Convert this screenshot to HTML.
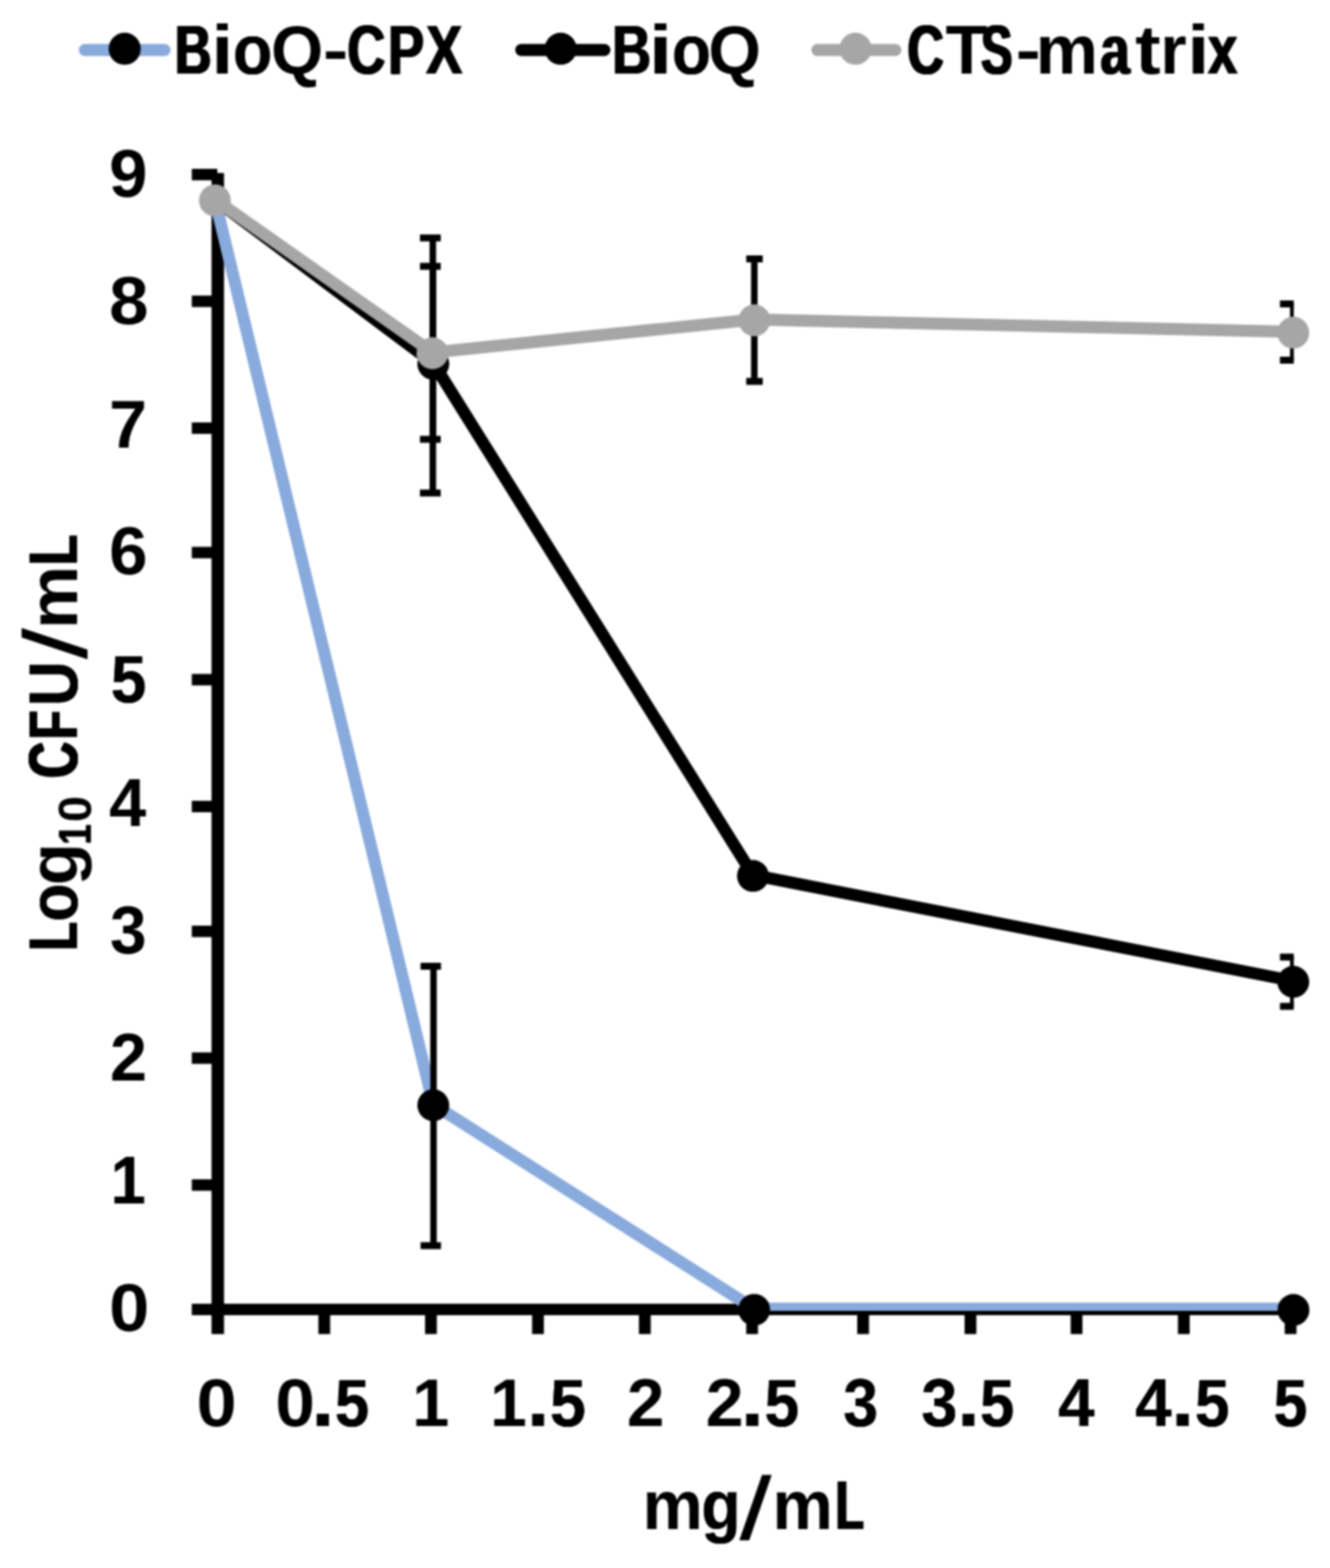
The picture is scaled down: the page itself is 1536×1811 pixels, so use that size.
<!DOCTYPE html>
<html lang="en"><head><meta charset="utf-8"><title>Log10 CFU/mL mg/mL</title>
<style>
html,body{margin:0;padding:0;background:#fff;}
body{width:1536px;height:1811px;overflow:hidden;position:relative;}
#chart{position:absolute;left:0;top:0;width:1536px;height:1811px;background:#fff;filter:blur(1px);}
svg{display:block;position:absolute;left:0;top:0;}
.t{position:absolute;left:0;top:0;margin:0;white-space:pre;font-family:"Liberation Sans",sans-serif;font-weight:bold;font-size:80px;line-height:80px;height:80px;color:#000;transform-origin:0 0;}
.t span{display:inline-block;width:10px;height:80px;line-height:80px;vertical-align:top;}
.t .s{font-size:54px;}
</style></head><body><div id="chart">
<svg width="1536" height="1811" viewBox="0 0 1536 1811" role="img">
<title>Log10 CFU/mL mg/mL</title>
<desc>BioQ-CPX BioQ CTS-matrix Log10 CFU/mL 9 8 7 6 5 4 3 2 1 0 mg/mL 0 0.5 1 1.5 2 2.5 3 3.5 4 4.5 5</desc>
<rect width="1536" height="1811" fill="#fff"/>
<defs><clipPath id="plot"><rect x="240" y="190" width="1254.2" height="1324"/></clipPath></defs>
<g fill="#000">
<rect x="244.3" y="199.8" width="14.4" height="1341"/>
<rect x="221.5" y="1505.8" width="1276" height="13.2"/>
<rect x="221.5" y="195.0" width="29.5" height="13.2"/>
<rect x="221.5" y="341.4" width="29.5" height="13.2"/>
<rect x="221.5" y="487.9" width="29.5" height="13.2"/>
<rect x="221.5" y="631.6" width="29.5" height="13.2"/>
<rect x="221.5" y="778.4" width="29.5" height="13.2"/>
<rect x="221.5" y="924.9" width="29.5" height="13.2"/>
<rect x="221.5" y="1069.1" width="29.5" height="13.2"/>
<rect x="221.5" y="1215.5" width="29.5" height="13.2"/>
<rect x="221.5" y="1362.1" width="29.5" height="13.2"/>
<rect x="367.7" y="1512" width="13.6" height="28.8"/>
<rect x="490.9" y="1512" width="13.6" height="28.8"/>
<rect x="614.5" y="1512" width="13.6" height="28.8"/>
<rect x="737.9" y="1512" width="13.6" height="28.8"/>
<rect x="861.8" y="1512" width="13.6" height="28.8"/>
<rect x="990.0" y="1512" width="13.6" height="28.8"/>
<rect x="1114.0" y="1512" width="13.6" height="28.8"/>
<rect x="1236.5" y="1512" width="13.6" height="28.8"/>
<rect x="1360.4" y="1512" width="13.6" height="28.8"/>
<rect x="1483.7" y="1512" width="13.6" height="28.8"/>
</g>
<g clip-path="url(#plot)"><polyline points="248.2,230.5 500.4,1275.5 871.0,1511.6 1493.6,1511.6" fill="none" stroke="#88aadc" stroke-width="14" stroke-linejoin="round" stroke-linecap="butt"/></g>
<g clip-path="url(#plot)" fill="#000">
<rect x="496.9" y="1116.0" width="7.5" height="322.7"/>
<rect x="485.7" y="1112.0" width="23.6" height="8"/>
<rect x="485.7" y="1434.7" width="23.6" height="8"/>
</g>
<circle cx="500.4" cy="1276.5" r="18.4" fill="#000"/>
<circle cx="871.0" cy="1512.8" r="18.4" fill="#000"/>
<circle cx="1493.8" cy="1512.9" r="18.4" fill="#000"/>
<g clip-path="url(#plot)"><polyline points="248.2,230.5 500.4,419.3 869.6,1010.7 1493.6,1133.0" fill="none" stroke="#000" stroke-width="14" stroke-linejoin="round" stroke-linecap="butt"/></g>
<g clip-path="url(#plot)" fill="#000">
<rect x="496.1" y="274.8" width="7.5" height="294.6"/>
<rect x="485.0" y="270.8" width="24.0" height="8"/>
<rect x="485.0" y="565.4" width="24.0" height="8"/>
</g>
<g clip-path="url(#plot)" fill="#000">
<rect x="1489.8" y="1105.4" width="7.5" height="56.9"/>
<rect x="1478.2" y="1101.4" width="21.8" height="8"/>
<rect x="1478.2" y="1158.3" width="21.8" height="8"/>
</g>
<circle cx="500.4" cy="420.3" r="18.4" fill="#000"/>
<circle cx="869.6" cy="1011.7" r="18.4" fill="#000"/>
<circle cx="1493.6" cy="1134.0" r="18.4" fill="#000"/>
<g clip-path="url(#plot)"><polyline points="248.2,230.5 499.4,407.0 871.2,369.0 1493.6,383.2" fill="none" stroke="#a6a6a6" stroke-width="14" stroke-linejoin="round" stroke-linecap="butt"/></g>
<g clip-path="url(#plot)" fill="#000">
<rect x="496.1" y="307.6" width="7.5" height="199.8"/>
<rect x="485.0" y="303.6" width="24.0" height="8"/>
<rect x="485.0" y="503.4" width="24.0" height="8"/>
</g>
<g clip-path="url(#plot)" fill="#000">
<rect x="867.4" y="299.0" width="7.5" height="141.5"/>
<rect x="861.8" y="295.0" width="19.1" height="8"/>
<rect x="861.8" y="436.5" width="19.1" height="8"/>
</g>
<g clip-path="url(#plot)" fill="#000">
<rect x="1489.8" y="351.0" width="7.5" height="65.0"/>
<rect x="1478.2" y="347.0" width="21.8" height="8"/>
<rect x="1478.2" y="412.0" width="21.8" height="8"/>
</g>
<circle cx="248.2" cy="231.5" r="18.4" fill="#a6a6a6"/>
<circle cx="499.4" cy="408.0" r="18.4" fill="#a6a6a6"/>
<circle cx="871.2" cy="370.0" r="18.4" fill="#a6a6a6"/>
<circle cx="1493.6" cy="384.2" r="18.4" fill="#a6a6a6"/>
<line x1="98" y1="57.8" x2="190" y2="57.8" stroke="#88aadc" stroke-width="14" stroke-linecap="round"/>
<circle cx="144" cy="56.3" r="18.5" fill="#000"/>
<line x1="602" y1="57.8" x2="698" y2="57.8" stroke="#000" stroke-width="14" stroke-linecap="round"/>
<circle cx="647.5" cy="56.3" r="18.5" fill="#000"/>
<line x1="944" y1="57.8" x2="1034" y2="57.8" stroke="#a6a6a6" stroke-width="14" stroke-linecap="round"/>
<circle cx="988" cy="56.3" r="18.5" fill="#a6a6a6"/>
</svg>
<div class="t" aria-label="BioQ-CPX" style="top:17.88px"><span style="margin-left:201.89px;transform-origin:0 67.73px;transform:translate(0,-0.01px) matrix(0.7299,0,-0.0000,0.9900,0,0);text-shadow:1.77px 0 0 #000,-1.77px 0 0 #000,0.89px 0 0 #000,-0.89px 0 0 #000">B</span><span style="margin-left:32.20px;transform-origin:0 67.73px;transform:translate(0,-0.01px) matrix(1.1479,0,-0.0000,0.9900,0,0)">i</span><span style="margin-left:15.15px;transform-origin:0 67.73px;transform:translate(0,-0.01px) matrix(0.9294,0,-0.0000,0.9900,0,0);text-shadow:0.16px 0 0 #000,-0.16px 0 0 #000">o</span><span style="margin-left:34.18px;transform-origin:0 67.73px;transform:translate(0,-0.01px) matrix(0.9697,0,-0.0000,0.9900,0,0)">Q</span><span style="margin-left:49.45px;transform-origin:0 67.73px;transform:translate(0,-3.43px) matrix(1.0978,0,-0.0000,0.9128,0,0)">-</span><span style="margin-left:17.81px;transform-origin:0 67.73px;transform:translate(0,-0.01px) matrix(0.7651,0,-0.0000,0.9900,0,0);text-shadow:1.43px 0 0 #000,-1.43px 0 0 #000">C</span><span style="margin-left:37.39px;transform-origin:0 67.73px;transform:translate(0,-0.01px) matrix(0.7852,0,-0.0000,0.9900,0,0);text-shadow:1.24px 0 0 #000,-1.24px 0 0 #000">P</span><span style="margin-left:33.54px;transform-origin:0 67.73px;transform:translate(0,-0.01px) matrix(0.7866,0,-0.0000,0.9900,0,0);text-shadow:1.23px 0 0 #000,-1.23px 0 0 #000">X</span></div>
<div class="t" aria-label="BioQ" style="top:17.88px"><span style="margin-left:706.68px;transform-origin:0 67.73px;transform:translate(0,-0.01px) matrix(0.7755,0,-0.0000,0.9900,0,0);text-shadow:1.33px 0 0 #000,-1.33px 0 0 #000">B</span><span style="margin-left:32.35px;transform-origin:0 67.73px;transform:translate(0,-0.01px) matrix(1.2481,0,-0.0000,0.9900,0,0)">i</span><span style="margin-left:17.07px;transform-origin:0 67.73px;transform:translate(0,-0.01px) matrix(0.9230,0,-0.0000,0.9900,0,0);text-shadow:0.20px 0 0 #000,-0.20px 0 0 #000">o</span><span style="margin-left:31.79px;transform-origin:0 67.73px;transform:translate(0,-0.01px) matrix(0.9787,0,-0.0000,0.9900,0,0)">Q</span></div>
<div class="t" aria-label="CTS-matrix" style="top:17.88px"><span style="margin-left:1048.04px;transform-origin:0 67.73px;transform:translate(0,-0.01px) matrix(0.7258,0,-0.0000,0.9900,0,0);text-shadow:1.82px 0 0 #000,-1.82px 0 0 #000,0.91px 0 0 #000,-0.91px 0 0 #000">C</span><span style="margin-left:33.77px;transform-origin:0 67.73px;transform:translate(0,-0.01px) matrix(0.9956,0,-0.0000,0.9900,0,0)">T</span><span style="margin-left:31.09px;transform-origin:0 67.73px;transform:translate(0,-0.01px) matrix(0.6778,0,-0.0000,0.9900,0,0);text-shadow:2.00px 0 0 #000,-2.00px 0 0 #000,1.00px 0 0 #000,-1.00px 0 0 #000">S</span><span style="margin-left:30.21px;transform-origin:0 67.73px;transform:translate(0,-3.43px) matrix(1.0880,0,-0.0000,0.9128,0,0)">-</span><span style="margin-left:13.05px;transform-origin:0 67.73px;transform:translate(0,-0.01px) matrix(1.0148,0,-0.0000,0.9900,0,0)">m</span><span style="margin-left:65.03px;transform-origin:0 67.73px;transform:translate(0,-0.01px) matrix(0.7548,0,-0.0000,0.9900,0,0);text-shadow:1.52px 0 0 #000,-1.52px 0 0 #000">a</span><span style="margin-left:30.34px;transform-origin:0 67.73px;transform:translate(0,-0.01px) matrix(1.1058,0,-0.0000,0.9900,0,0)">t</span><span style="margin-left:18.72px;transform-origin:0 67.73px;transform:translate(0,-0.01px) matrix(0.9777,0,-0.0000,0.9900,0,0)">r</span><span style="margin-left:21.14px;transform-origin:0 67.73px;transform:translate(0,-0.01px) matrix(1.1661,0,-0.0000,0.9900,0,0)">i</span><span style="margin-left:13.28px;transform-origin:0 67.73px;transform:translate(0,-0.01px) matrix(0.7664,0,-0.0000,0.9900,0,0);text-shadow:1.41px 0 0 #000,-1.41px 0 0 #000">x</span></div>
<div class="t" aria-label="9" style="top:160.18px"><span style="margin-left:125.94px;transform-origin:0 67.73px;transform:translate(0,-0.01px) matrix(0.9961,0,-0.0000,0.9800,0,0)">9</span></div>
<div class="t" aria-label="8" style="top:306.98px"><span style="margin-left:125.70px;transform-origin:0 67.73px;transform:translate(0,-0.01px) matrix(1.0230,0,-0.0000,0.9800,0,0)">8</span></div>
<div class="t" aria-label="7" style="top:449.68px"><span style="margin-left:126.42px;transform-origin:0 67.73px;transform:translate(0,-0.01px) matrix(0.9830,0,-0.0000,0.9800,0,0)">7</span></div>
<div class="t" aria-label="6" style="top:595.78px"><span style="margin-left:126.48px;transform-origin:0 67.73px;transform:translate(0,-0.01px) matrix(0.9981,0,-0.0000,0.9800,0,0)">6</span></div>
<div class="t" aria-label="5" style="top:743.68px"><span style="margin-left:127.71px;transform-origin:0 67.73px;transform:translate(0,-0.01px) matrix(0.9229,0,-0.0000,0.9800,0,0);text-shadow:0.20px 0 0 #000,-0.20px 0 0 #000">5</span></div>
<div class="t" aria-label="4" style="top:886.78px"><span style="margin-left:126.43px;transform-origin:0 67.73px;transform:translate(0,-0.01px) matrix(0.9638,0,-0.0000,0.9800,0,0)">4</span></div>
<div class="t" aria-label="3" style="top:1034.08px"><span style="margin-left:127.35px;transform-origin:0 67.73px;transform:translate(0,-0.01px) matrix(0.9506,0,-0.0000,0.9800,0,0)">3</span></div>
<div class="t" aria-label="2" style="top:1181.08px"><span style="margin-left:127.13px;transform-origin:0 67.73px;transform:translate(0,-0.01px) matrix(0.9632,0,-0.0000,0.9800,0,0)">2</span></div>
<div class="t" aria-label="1" style="top:1323.48px"><span style="margin-left:128.45px;transform-origin:0 67.73px;transform:translate(0,-0.01px) matrix(0.9026,0,-0.0000,0.9800,0,0);text-shadow:0.33px 0 0 #000,-0.33px 0 0 #000">1</span></div>
<div class="t" aria-label="0" style="top:1469.68px"><span style="margin-left:125.69px;transform-origin:0 67.73px;transform:translate(0,-0.01px) matrix(1.0448,0,-0.0000,0.9800,0,0)">0</span></div>
<div class="t" aria-label="0" style="top:1580.18px"><span style="margin-left:226.51px;transform-origin:0 67.73px;transform:translate(0,-0.01px) matrix(1.0408,0,-0.0000,0.9800,0,0)">0</span></div>
<div class="t" aria-label="0.5" style="top:1580.18px"><span style="margin-left:317.85px;transform-origin:0 67.73px;transform:translate(0,-0.01px) matrix(1.0277,0,-0.0000,0.9800,0,0)">0</span><span style="margin-left:30.97px;transform-origin:0 67.73px;transform:translate(0,0.59px) matrix(1.2490,0,-0.0000,1.1835,0,0)">.</span><span style="margin-left:18.54px;transform-origin:0 67.73px;transform:translate(0,-0.01px) matrix(0.8804,0,-0.0000,0.9800,0,0);text-shadow:0.49px 0 0 #000,-0.49px 0 0 #000">5</span></div>
<div class="t" aria-label="1" style="top:1580.18px"><span style="margin-left:476.44px;transform-origin:0 67.73px;transform:translate(0,-0.01px) matrix(0.9644,0,-0.0000,0.9800,0,0)">1</span></div>
<div class="t" aria-label="1.5" style="top:1580.18px"><span style="margin-left:566.29px;transform-origin:0 67.73px;transform:translate(0,-0.01px) matrix(0.9536,0,-0.0000,0.9800,0,0)">1</span><span style="margin-left:31.52px;transform-origin:0 67.73px;transform:translate(0,0.59px) matrix(1.2136,0,-0.0000,1.1835,0,0)">.</span><span style="margin-left:17.18px;transform-origin:0 67.73px;transform:translate(0,-0.01px) matrix(0.9370,0,-0.0000,0.9800,0,0);text-shadow:0.11px 0 0 #000,-0.11px 0 0 #000">5</span></div>
<div class="t" aria-label="2" style="top:1580.18px"><span style="margin-left:723.90px;transform-origin:0 67.73px;transform:translate(0,-0.01px) matrix(0.9736,0,-0.0000,0.9800,0,0)">2</span></div>
<div class="t" aria-label="2.5" style="top:1580.18px"><span style="margin-left:815.27px;transform-origin:0 67.73px;transform:translate(0,-0.01px) matrix(0.9840,0,-0.0000,0.9800,0,0)">2</span><span style="margin-left:29.95px;transform-origin:0 67.73px;transform:translate(0,0.59px) matrix(1.2490,0,-0.0000,1.1835,0,0)">.</span><span style="margin-left:18.10px;transform-origin:0 67.73px;transform:translate(0,-0.01px) matrix(0.8981,0,-0.0000,0.9800,0,0);text-shadow:0.36px 0 0 #000,-0.36px 0 0 #000">5</span></div>
<div class="t" aria-label="3" style="top:1580.18px"><span style="margin-left:974.47px;transform-origin:0 67.73px;transform:translate(0,-0.01px) matrix(0.8994,0,-0.0000,0.9800,0,0);text-shadow:0.35px 0 0 #000,-0.35px 0 0 #000">3</span></div>
<div class="t" aria-label="3.5" style="top:1580.18px"><span style="margin-left:1063.97px;transform-origin:0 67.73px;transform:translate(0,-0.01px) matrix(0.9383,0,-0.0000,0.9800,0,0);text-shadow:0.10px 0 0 #000,-0.10px 0 0 #000">3</span><span style="margin-left:30.74px;transform-origin:0 67.73px;transform:translate(0,0.59px) matrix(1.2136,0,-0.0000,1.1835,0,0)">.</span><span style="margin-left:17.15px;transform-origin:0 67.73px;transform:translate(0,-0.01px) matrix(0.8804,0,-0.0000,0.9800,0,0);text-shadow:0.49px 0 0 #000,-0.49px 0 0 #000">5</span></div>
<div class="t" aria-label="4" style="top:1580.18px"><span style="margin-left:1221.61px;transform-origin:0 67.73px;transform:translate(0,-0.01px) matrix(0.9448,0,-0.0000,0.9800,0,0);text-shadow:0.06px 0 0 #000,-0.06px 0 0 #000">4</span></div>
<div class="t" aria-label="4.5" style="top:1580.18px"><span style="margin-left:1311.31px;transform-origin:0 67.73px;transform:translate(0,-0.01px) matrix(0.9448,0,-0.0000,0.9800,0,0);text-shadow:0.06px 0 0 #000,-0.06px 0 0 #000">4</span><span style="margin-left:30.41px;transform-origin:0 67.73px;transform:translate(0,0.59px) matrix(1.2490,0,-0.0000,1.1835,0,0)">.</span><span style="margin-left:18.70px;transform-origin:0 67.73px;transform:translate(0,-0.01px) matrix(0.8981,0,-0.0000,0.9800,0,0);text-shadow:0.36px 0 0 #000,-0.36px 0 0 #000">5</span></div>
<div class="t" aria-label="5" style="top:1580.18px"><span style="margin-left:1470.95px;transform-origin:0 67.73px;transform:translate(0,-0.01px) matrix(0.8698,0,-0.0000,0.9800,0,0);text-shadow:0.56px 0 0 #000,-0.56px 0 0 #000">5</span></div>
<div class="t" aria-label="mg/mL" style="top:1698.68px"><span style="margin-left:742.23px;transform-origin:0 67.73px;transform:translate(0,-0.01px) matrix(0.9803,0,-0.0000,0.9900,0,0)">m</span><span style="margin-left:57.69px;transform-origin:0 67.73px;transform:translate(0,-0.01px) matrix(0.9265,0,-0.0000,0.9900,0,0);text-shadow:0.17px 0 0 #000,-0.17px 0 0 #000">g</span><span style="margin-left:33.38px;transform-origin:0 67.73px;transform:translate(0,11.15px) matrix(1.2028,0,-0.2103,1.2691,0,0)">/</span><span style="margin-left:28.62px;transform-origin:0 67.73px;transform:translate(0,-0.01px) matrix(0.9836,0,-0.0000,0.9900,0,0)">m</span><span style="margin-left:63.55px;transform-origin:0 67.73px;transform:translate(0,-0.01px) matrix(0.6681,0,-0.0000,0.9900,0,0);text-shadow:2.00px 0 0 #000,-2.00px 0 0 #000,1.00px 0 0 #000,-1.00px 0 0 #000">L</span></div>
<div class="t" aria-label="Log10 CFU/mL" style="transform:translate(21.68px,1095.40px) rotate(-90deg)"><span style="margin-left:-2.19px;transform-origin:0 67.73px;transform:translate(0,-0.01px) matrix(0.6525,0,-0.0000,0.9900,0,0);text-shadow:2.00px 0 0 #000,-2.00px 0 0 #000,1.00px 0 0 #000,-1.00px 0 0 #000">L</span><span style="margin-left:22.74px;transform-origin:0 67.73px;transform:translate(0,-0.01px) matrix(0.8941,0,-0.0000,0.9900,0,0);text-shadow:0.39px 0 0 #000,-0.39px 0 0 #000">o</span><span style="margin-left:32.27px;transform-origin:0 67.73px;transform:translate(0,-0.01px) matrix(0.9991,0,-0.0000,0.9900,0,0)">g</span><span class="s" style="margin-left:37.27px;transform-origin:0 58.72px;transform:translate(0,24.30px) matrix(0.7709,0,-0.0000,0.9900,0,0);text-shadow:0.93px 0 0 #000,-0.93px 0 0 #000">1</span><span class="s" style="margin-left:15.55px;transform-origin:0 58.72px;transform:translate(0,24.30px) matrix(1.0085,0,-0.0000,0.9900,0,0)">0</span><span style="margin-left:20.35px;transform-origin:0 67.73px;transform:translate(0,-0.01px) matrix(1.0000,0,-0.0000,1.0000,0,0)"> </span><span style="margin-left:11.03px;transform-origin:0 67.73px;transform:translate(0,-0.01px) matrix(0.7160,0,-0.0000,0.9900,0,0);text-shadow:1.92px 0 0 #000,-1.92px 0 0 #000,0.96px 0 0 #000,-0.96px 0 0 #000">C</span><span style="margin-left:35.06px;transform-origin:0 67.73px;transform:translate(0,-0.01px) matrix(0.6594,0,-0.0000,0.9900,0,0);text-shadow:2.00px 0 0 #000,-2.00px 0 0 #000,1.00px 0 0 #000,-1.00px 0 0 #000">F</span><span style="margin-left:28.46px;transform-origin:0 67.73px;transform:translate(0,-0.01px) matrix(0.8944,0,-0.0000,0.9900,0,0);text-shadow:0.39px 0 0 #000,-0.39px 0 0 #000">U</span><span style="margin-left:42.82px;transform-origin:0 67.73px;transform:translate(0,10.94px) matrix(1.2028,0,-0.1952,1.2775,0,0)">/</span><span style="margin-left:25.31px;transform-origin:0 67.73px;transform:translate(0,-0.01px) matrix(1.0263,0,-0.0000,0.9900,0,0)">m</span><span style="margin-left:64.17px;transform-origin:0 67.73px;transform:translate(0,-0.01px) matrix(0.6992,0,-0.0000,0.9900,0,0);text-shadow:2.00px 0 0 #000,-2.00px 0 0 #000,1.00px 0 0 #000,-1.00px 0 0 #000">L</span></div>
</div></body></html>
